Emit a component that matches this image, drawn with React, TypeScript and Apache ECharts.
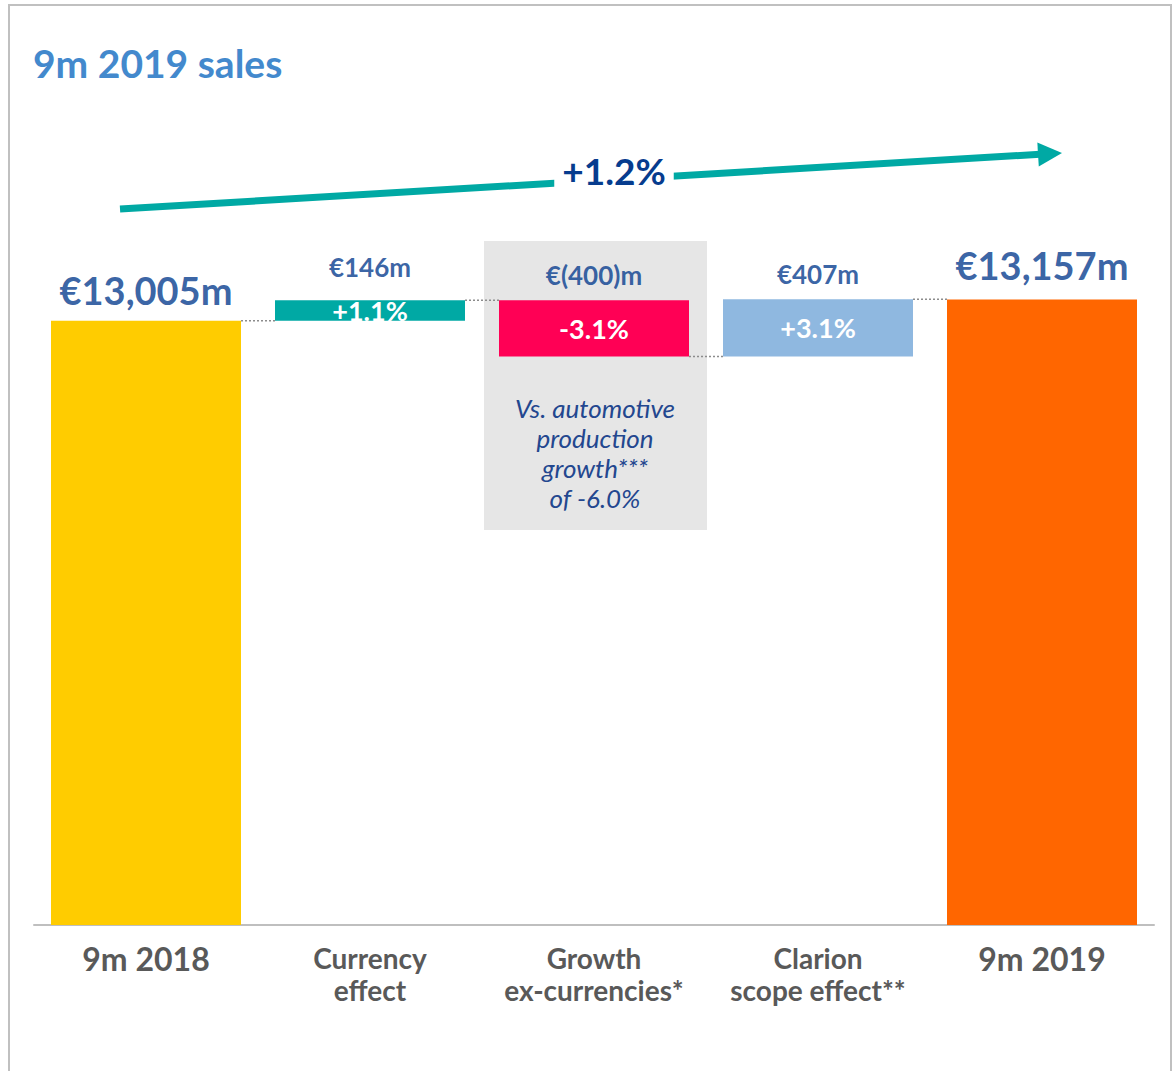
import React, { useEffect, useRef } from "react";
import * as echarts from "echarts";

const categories = ["9m 2018", "Currency\neffect", "Growth\nex-currencies*", "Clarion\nscope effect**", "9m 2019"];
const startValue = 13005;
const changes = [146, -400, 407];
const endValue = 13157;
const valueLabels = ["€13,005m", "€146m", "€(400)m", "€407m", "€13,157m"];
const pctLabels = ["", "+1.1%", "-3.1%", "+3.1%", ""];
const totalGrowthLabel = "+1.2%";
const noteLines = ["Vs. automotive", "production", "growth***", "of -6.0%"];
const barColors = ["#FFCC00", "#00A9A4", "#FF0055", "#8FB8E0", "#FF6600"];
const titleText = "9m 2019 sales";

const NAVY = "#063C8E";
const FONT = "Lato";

function buildWaterfall() {
  const bases: number[] = [0];
  const heights: number[] = [startValue];
  const tops: number[] = [startValue];
  const levels: number[] = [startValue];
  let running = startValue;
  for (const c of changes) {
    if (c >= 0) {
      bases.push(running);
      heights.push(c);
      running += c;
      tops.push(running);
    } else {
      const prev = running;
      running += c;
      bases.push(running);
      heights.push(-c);
      tops.push(prev);
    }
    levels.push(running);
  }
  bases.push(0);
  heights.push(endValue);
  tops.push(endValue);
  levels.push(endValue);
  return { bases, heights, tops, levels };
}

export default function App() {
  const ref = useRef<HTMLDivElement>(null);
  useEffect(() => {
    if (!ref.current) return;
    const chart = echarts.init(ref.current, null, { renderer: "svg" });
    const { bases, heights, tops, levels } = buildWaterfall();
    const BAR_W = 190;
    const bigIdx = (i: number) => i === 0 || i === categories.length - 1;
    const topLabelDist = [12, 20, 12, 12, 15];

    chart.setOption({
      animation: false,
      backgroundColor: "#ffffff",
      title: {
        text: titleText,
        left: 28,
        top: 38,
        textStyle: { fontFamily: FONT, fontSize: 39, fontWeight: "bold", color: "#4389CD" },
      },
      grid: { left: 34, right: 21, top: 125, bottom: 146, containLabel: false },
      xAxis: {
        type: "category",
        data: categories,
        axisLine: { lineStyle: { color: "#BFBFBF", width: 2 } },
        axisTick: { show: false },
        axisLabel: {
          margin: 17,
          interval: 0,
          formatter: (value: string, idx: number) =>
            bigIdx(idx)
              ? `{big|${value}}`
              : value.split("\n").map((l) => `{small|${l}}`).join("\n"),
          rich: {
            big: { fontFamily: FONT, fontSize: 32, fontWeight: "bold", color: "#595959", lineHeight: 32 },
            small: { fontFamily: FONT, fontSize: 28, fontWeight: "bold", color: "#595959", lineHeight: 32 },
          },
        },
      },
      yAxis: {
        type: "value",
        min: 8700,
        max: 14400,
        show: false,
        splitLine: { show: false },
      },
      series: [
        {
          type: "bar",
          stack: "w",
          barWidth: BAR_W,
          silent: true,
          itemStyle: { color: "transparent" },
          data: bases,
        },
        {
          type: "bar",
          stack: "w",
          barWidth: BAR_W,
          z: 3,
          data: heights.map((h, i) => ({
            value: h,
            itemStyle: { color: barColors[i] },
          })),
          label: {
            show: true,
            position: "inside",
            formatter: (p: any) => pctLabels[p.dataIndex],
            color: "#ffffff",
            fontFamily: FONT,
            fontWeight: "bold",
            fontSize: 27,
          },
        },
        {
          type: "scatter",
          symbolSize: 0,
          z: 5,
          data: tops.map((t, i) => ({
            value: t,
            label: {
              show: true,
              position: "top",
              distance: topLabelDist[i],
              fontSize: bigIdx(i) ? 38 : 26,
            },
          })),
          label: {
            show: true,
            formatter: (p: any) => valueLabels[p.dataIndex],
            color: NAVY,
            fontFamily: FONT,
            fontWeight: "bold",
          },
        },
      ],
    });

    const px = (i: number, v: number) => chart.convertToPixel({ xAxisIndex: 0, yAxisIndex: 0 }, [i, v]) as number[];
    const graphics: any[] = [];
    // border
    graphics.push({
      type: "rect",
      z: 0,
      silent: true,
      shape: { x: 9, y: 5, width: 1162, height: 1080 },
      style: { fill: "none", stroke: "#C0C0C0", lineWidth: 2 },
    });
    // grey note box behind growth bar
    const c2 = px(2, levels[2]);
    graphics.push({
      type: "rect",
      z: 0,
      silent: true,
      shape: { x: c2[0] - 110, y: 241, width: 223, height: 289 },
      style: { fill: "#E6E6E6" },
    });
    graphics.push({
      type: "text",
      z: 10,
      x: c2[0] + 1,
      y: 393,
      style: {
        text: noteLines.join("\n"),
        align: "center",
        verticalAlign: "top",
        fontFamily: FONT,
        fontStyle: "italic",
        fontSize: 26,
        lineHeight: 30,
        fill: "#23478F",
      },
    });
    // dotted connectors
    for (let i = 0; i < categories.length - 1; i++) {
      const a = px(i, levels[i]);
      const b = px(i + 1, levels[i]);
      graphics.push({
        type: "line",
        z: 4,
        silent: true,
        shape: { x1: a[0] + BAR_W / 2, y1: a[1], x2: b[0] - BAR_W / 2, y2: a[1] },
        style: { stroke: "#8C8C8C", lineWidth: 1.5, lineDash: [2, 2] },
      });
    }
    // overall growth arrow
    const x1 = 120, y1 = 209, tipX = 1062, tipY = 153;
    const dx = tipX - x1, dy = tipY - y1;
    const len = Math.sqrt(dx * dx + dy * dy);
    const ux = dx / len, uy = dy / len;
    const headL = 24, headW = 12;
    const bx = tipX - ux * headL, by = tipY - uy * headL;
    graphics.push({
      type: "line",
      z: 6,
      silent: true,
      shape: { x1, y1, x2: bx + ux * 2, y2: by + uy * 2 },
      style: { stroke: "#00A9A4", lineWidth: 7 },
    });
    graphics.push({
      type: "polygon",
      z: 6,
      silent: true,
      shape: {
        points: [
          [tipX, tipY],
          [bx - uy * headW, by + ux * headW],
          [bx + uy * headW, by - ux * headW],
        ],
      },
      style: { fill: "#00A9A4" },
    });
    graphics.push({
      type: "text",
      z: 7,
      x: 614,
      y: 170,
      style: {
        text: totalGrowthLabel,
        align: "center",
        verticalAlign: "middle",
        fontFamily: FONT,
        fontWeight: "bold",
        fontSize: 37,
        fill: NAVY,
        backgroundColor: "#ffffff",
        padding: [2, 8],
      },
    });
    chart.setOption({ graphic: graphics });

    return () => chart.dispose();
  }, []);
  return (
    <div
      ref={ref}
      style={{ position: "fixed", left: 0, top: 0, width: 1175, height: 1071, background: "#fff" }}
    />
  );
}
